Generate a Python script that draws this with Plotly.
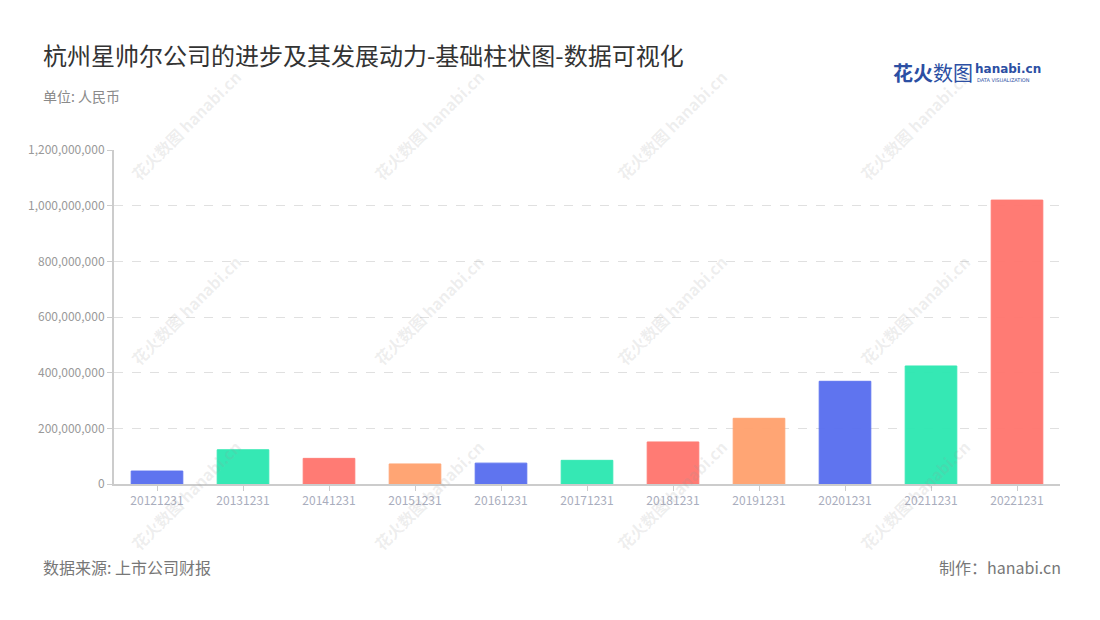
import plotly.graph_objects as go

categories = ["20121231", "20131231", "20141231", "20151231", "20161231", "20171231",
              "20181231", "20191231", "20201231", "20211231", "20221231"]
values = [46500000, 123000000, 92000000, 72000000, 75000000, 85000000,
          151000000, 236000000, 369000000, 424000000, 1020000000]
palette = ["#5a70ef", "#2fe8b2", "#ff7770", "#ffa370"]
tick_vals = [0, 200000000, 400000000, 600000000, 800000000, 1000000000, 1200000000]
tick_text = ["0", "200,000,000", "400,000,000", "600,000,000", "800,000,000",
             "1,000,000,000", "1,200,000,000"]

FONT = "Noto Sans CJK SC"
colors = [palette[i % 4] for i in range(len(categories))]

W, H = 1100, 620
L, R, T, B = 114, 40, 150, 136
PW, PH = W - L - R, H - T - B


def px(x):
    return (x - L) / PW


def py(y):
    return (H - B - y) / PH


fig = go.Figure()
fig.add_trace(go.Bar(
    x=categories, y=values,
    marker=dict(color=colors, line=dict(color=colors, width=1), opacity=0.97),
    hoverinfo="x+y",
))

fig.update_layout(
    width=W, height=H,
    margin=dict(l=L, r=R, t=T, b=B),
    paper_bgcolor="white", plot_bgcolor="white",
    font=dict(family=FONT, color="#999"),
    bargap=0.4,
    showlegend=False,
    xaxis=dict(
        type="category",
        showline=True, linecolor="#cccccc", linewidth=2,
        ticks="outside", ticklen=5, tickcolor="#cccccc", tickwidth=1,
        tickfont=dict(size=12, color="#a9adbd", family=FONT),
        showgrid=False, zeroline=False,
    ),
    yaxis=dict(
        range=[0, 1200000000],
        tickvals=tick_vals, ticktext=tick_text,
        showline=True, linecolor="#cccccc", linewidth=2,
        ticks="outside", ticklen=5, tickcolor="#cccccc",
        tickfont=dict(size=12, color="#999999", family=FONT),
        showgrid=True, gridcolor="#e0e0e0", griddash="dash", gridwidth=1,
        zeroline=False,
    ),
)

# watermarks
wm_x = [186, 429, 672, 915]
wm_y = [125, 310, 495]
for wy in wm_y:
    for wx in wm_x:
        fig.add_annotation(
            x=px(wx), y=py(wy), xref="paper", yref="paper",
            text="<b>花火数图</b> <b>hanabi.cn</b>", showarrow=False, textangle=-45,
            font=dict(size=16, color="rgba(150,150,150,0.16)", family=FONT),
            xanchor="center", yanchor="middle",
        )

# title and subtitle
fig.add_annotation(x=px(41), y=py(55), xref="paper", yref="paper",
                   text="杭州星帅尔公司的进步及其发展动力-基础柱状图-数据可视化",
                   showarrow=False, xanchor="left", yanchor="middle",
                   font=dict(size=24, color="#333333", family=FONT))
fig.add_annotation(x=px(41), y=py(96), xref="paper", yref="paper",
                   text="单位: 人民币", showarrow=False, xanchor="left", yanchor="middle",
                   font=dict(size=14, color="#8a8a8a", family=FONT))

# logo
fig.add_annotation(x=px(891), y=py(72), xref="paper", yref="paper",
                   text="<b>花火</b>数图", showarrow=False, xanchor="left", yanchor="middle",
                   font=dict(size=20, color="#2c4fa3", family=FONT))
fig.add_annotation(x=px(973), y=py(69), xref="paper", yref="paper",
                   text="<b>hanabi.cn</b>", showarrow=False, xanchor="left", yanchor="middle",
                   font=dict(size=12, color="#2c4fa3", family="DejaVu Sans"))
fig.add_annotation(x=px(975), y=py(80), xref="paper", yref="paper",
                   text="DATA VISUALIZATION", showarrow=False, xanchor="left", yanchor="middle",
                   font=dict(size=5, color="#2c4fa3", family="DejaVu Sans"))

# footer
fig.add_annotation(x=px(41), y=py(567), xref="paper", yref="paper",
                   text="数据来源: 上市公司财报", showarrow=False, xanchor="left", yanchor="middle",
                   font=dict(size=16, color="#777777", family=FONT))
fig.add_annotation(x=px(1063), y=py(567), xref="paper", yref="paper",
                   text="制作：hanabi.cn", showarrow=False, xanchor="right", yanchor="middle",
                   font=dict(size=16, color="#777777", family=FONT))

fig.write_html("out.html", post_script="document.body.style.margin='0';",
               config={"displayModeBar": False})
